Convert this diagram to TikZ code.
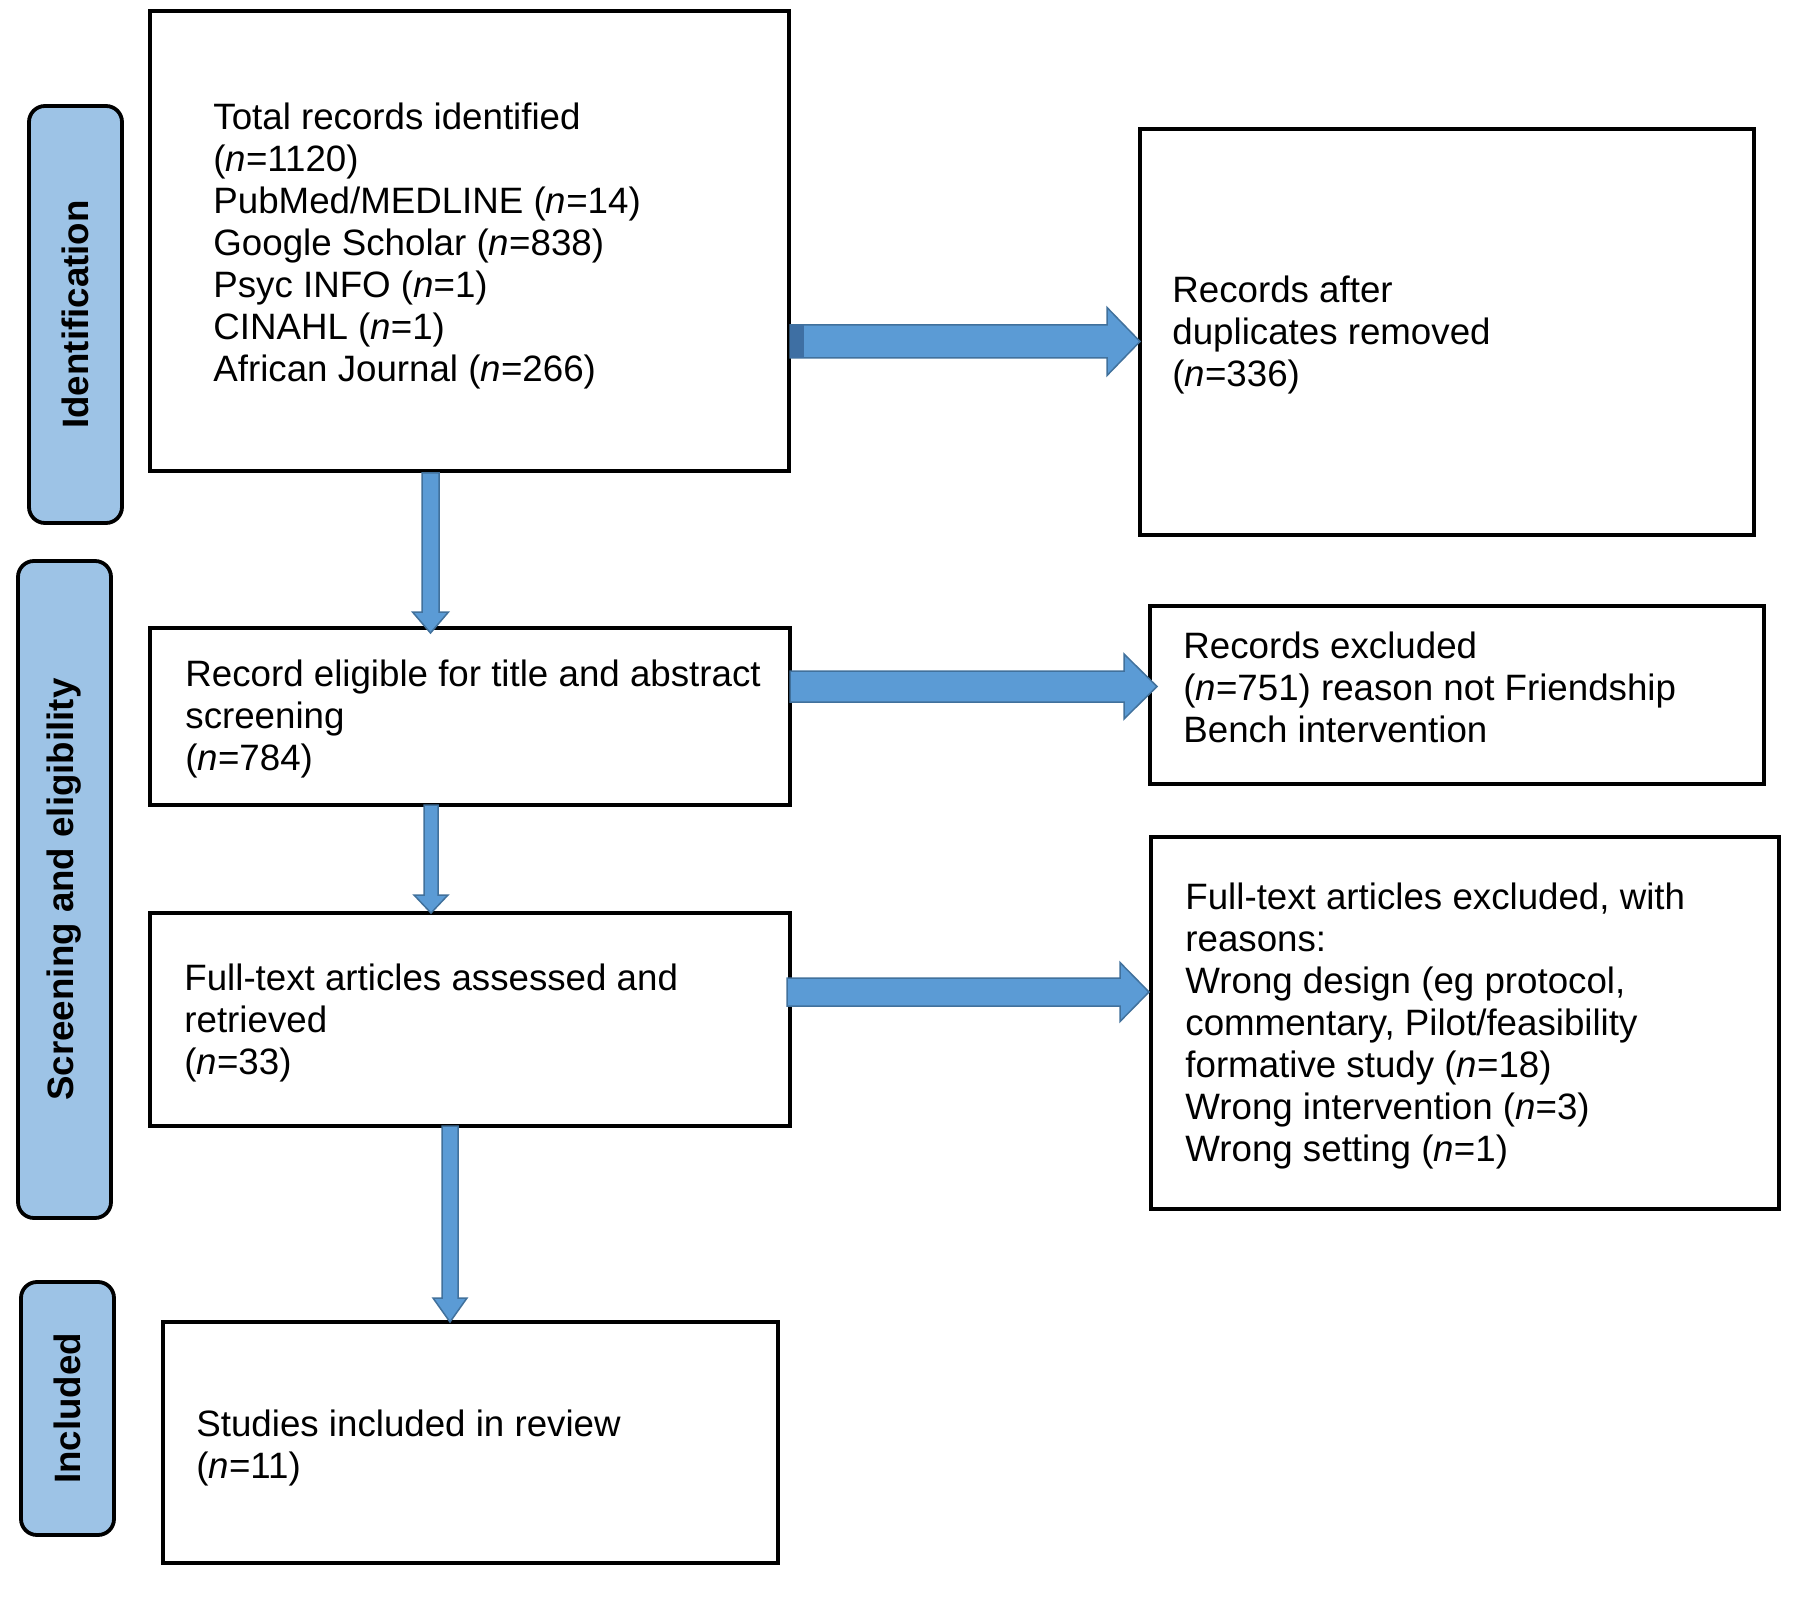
\documentclass[tikz,border=0pt]{standalone}
\usepackage{fontspec}
\setmainfont{Liberation Sans}
\usetikzlibrary{calc}
\definecolor{lblfill}{RGB}{157,195,230}
\definecolor{arrfill}{RGB}{91,155,213}
\definecolor{arrdraw}{RGB}{65,113,156}
\definecolor{arrdark}{RGB}{62,111,163}
\tikzset{
  box/.style={draw, line width=1.8pt, inner sep=0pt, outer sep=0pt},
  phase/.style={draw, line width=1.9pt, fill=lblfill, rounded corners=8pt, inner sep=0pt, outer sep=0pt, rotate=90,
     font=\fontsize{18.35pt}{21pt}\selectfont\bfseries},
  txt/.style={anchor=west, align=left, inner sep=0pt, font=\fontsize{18.35pt}{21pt}\selectfont},
  barrow/.style={fill=arrfill, draw=arrdraw, line width=0.75pt, line join=miter},
}
\newcommand\rblock[5]{\path[barrow] let \p1=(#1), \p2=(#2) in
  (\x1,\y1+#3) -- (\x2-#5,\y1+#3) -- (\x2-#5,\y1+#4) -- (\x2,\y1) -- (\x2-#5,\y1-#4) -- (\x2-#5,\y1-#3) -- (\x1,\y1-#3) -- cycle;}
\newcommand\dblock[5]{\path[barrow] let \p1=(#1), \p2=(#2) in
  (\x1-#3,\y1) -- (\x1-#3,\y2+#5) -- (\x1-#4,\y2+#5) -- (\x1,\y2) -- (\x1+#4,\y2+#5) -- (\x1+#3,\y2+#5) -- (\x1+#3,\y1) -- cycle;}
\begin{document}
\begin{tikzpicture}[x=0.5pt, y=-0.5pt]
\useasboundingbox (0,0) rectangle (1800,1599);
\fill[white] (0,0) rectangle (1800,1599);

% phase labels
\node[phase, minimum width=208.5pt, minimum height=46.5pt] (L1) at (75.5,314.5) {Identification};
\node[phase, minimum width=328.5pt, minimum height=46.5pt] (L2) at (64.5,889.5) {Screening and eligibility};
\node[phase, minimum width=126.5pt, minimum height=46.5pt] (L3) at (67.5,1408.5) {Included};

% boxes
\node[box, minimum width=319.5pt, minimum height=230pt] (b1) at (469.5,241) {};
\node[box, minimum width=307pt, minimum height=203pt] (b2) at (1447,332) {};
\node[box, minimum width=320pt, minimum height=88.5pt] (b3) at (470,716.5) {};
\node[box, minimum width=307pt, minimum height=89pt] (b4) at (1457,695) {};
\node[box, minimum width=320pt, minimum height=106.5pt] (b5) at (470,1019.5) {};
\node[box, minimum width=314pt, minimum height=186pt] (b6) at (1465,1023) {};
\node[box, minimum width=307.5pt, minimum height=120.5pt] (b7) at (470.5,1442.5) {};

% texts
\node[txt] (t1) at ($(b1.west)+(63,5)$) {Total records identified\\(\textit{n}=1120)\\PubMed/MEDLINE (\textit{n}=14)\\Google Scholar (\textit{n}=838)\\Psyc INFO (\textit{n}=1)\\CINAHL (\textit{n}=1)\\African Journal (\textit{n}=266)};
\node[txt] (t2) at ($(b2.west)+(32,3)$) {Records after\\duplicates removed\\(\textit{n}=336)};
\node[txt] (t3) at ($(b3.west)+(35,3)$) {Record eligible for title and abstract\\screening\\(\textit{n}=784)};
\node[txt] (t4) at ($(b4.west)+(33,-8)$) {Records excluded\\(\textit{n}=751) reason not Friendship\\Bench intervention};
\node[txt] (t5) at ($(b5.west)+(34,3)$) {Full-text articles assessed and\\retrieved\\(\textit{n}=33)};
\node[txt] (t6) at ($(b6.west)+(34,3)$) {Full-text articles excluded, with\\reasons:\\Wrong design (eg protocol,\\commentary, Pilot/feasibility\\formative study (\textit{n}=18)\\Wrong intervention (\textit{n}=3)\\Wrong setting (\textit{n}=1)};
\node[txt] (t7) at ($(b7.west)+(33,5)$) {Studies included in review\\(\textit{n}=11)};

% connector end points
\coordinate (r1s) at ($(b1.east)+(1,100.5)$);
\coordinate (r1e) at (b2.west |- r1s);
\coordinate (r2s) at ($(b3.east)+(0,-30)$);
\coordinate (r2e) at ($(b4.west |- r2s)+(7,0)$);
\coordinate (r3s) at ($(b5.east)+(-3,-27.5)$);
\coordinate (r3e) at ($(b6.west |- r3s)+(-2,0)$);
\coordinate (d1s) at ($(b1.south)+(-39,2)$);
\coordinate (d1e) at ($(d1s |- b3.north)+(0,5)$);
\coordinate (d2s) at ($(b3.south)+(-39,0)$);
\coordinate (d2e) at (d2s |- b5.north);
\coordinate (d3s) at ($(b5.south)+(-20,0)$);
\coordinate (d3e) at (d3s |- b7.north);

% block arrows
\rblock{r1s}{r1e}{8.25pt}{17pt}{16.5pt}
\fill[arrdark] let \p1=(r1s) in (\x1,\y1-8.25pt) rectangle (\x1+7pt,\y1+8.25pt);
\rblock{r2s}{r2e}{7.75pt}{16.25pt}{16.5pt}
\rblock{r3s}{r3e}{7pt}{14.75pt}{14.5pt}
\dblock{d1s}{d1e}{4.25pt}{9pt}{10.5pt}
\dblock{d2s}{d2e}{3.5pt}{8.5pt}{9pt}
\dblock{d3s}{d3e}{4pt}{8.5pt}{12pt}
\end{tikzpicture}
\end{document}
